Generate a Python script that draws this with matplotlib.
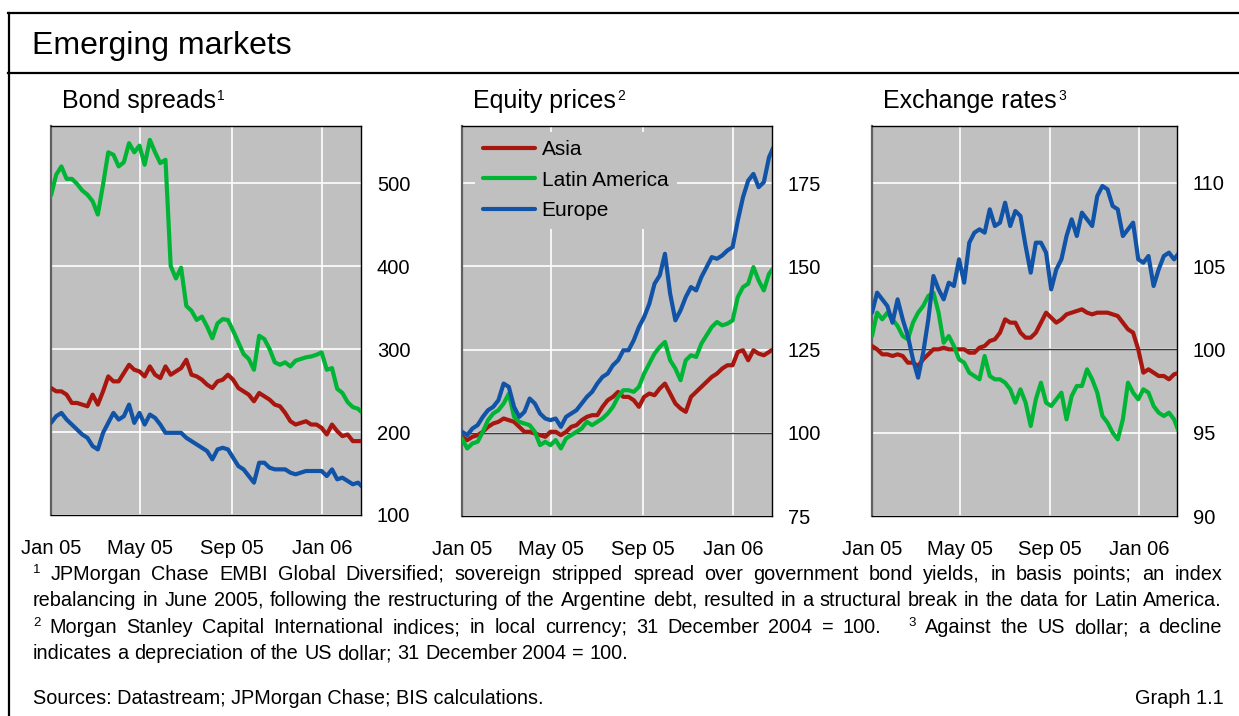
import matplotlib
matplotlib.use('Agg')
import matplotlib.pyplot as plt
import pandas as pd
from matplotlib.lines import Line2D

plt.rcParams['font.family'] = ['Liberation Sans', 'DejaVu Sans']

W, H = 1239, 716

dates = pd.date_range('2005-01-01', periods=61, freq='7D')

# Bond spreads, basis points
bond_asia = [253, 249, 249, 245, 235, 235, 233, 231, 245, 233,
             249, 267, 261, 261, 271, 281, 275, 273, 267, 279,
             269, 265, 279, 269, 273, 277, 287, 269, 267, 263,
             257, 253, 261, 263, 269, 263, 253, 249, 245, 237,
             247, 243, 239, 233, 231, 223, 213, 209, 211, 213,
             209, 209, 205, 197, 209, 201, 195, 197, 189, 189, 189]
bond_latam = [485, 510, 520, 505, 505, 499, 491, 486, 478, 462,
              498, 537, 534, 520, 525, 548, 537, 545, 522, 552,
              537, 524, 528, 400, 385, 398, 352, 346, 335, 339,
              327, 313, 331, 336, 335, 322, 308, 294, 288, 275,
              316, 312, 300, 284, 281, 284, 279, 286, 288, 290,
              291, 293, 296, 275, 277, 252, 247, 236, 230, 228, 222]
bond_europe = [211, 219, 223, 215, 209, 203, 197, 193, 183, 179,
               199, 211, 223, 215, 219, 233, 211, 223, 209, 221,
               217, 209, 199, 199, 199, 199, 193, 189, 185, 181,
               177, 167, 179, 181, 179, 169, 159, 155, 147, 139,
               163, 163, 157, 155, 155, 155, 151, 149, 151, 153,
               153, 153, 153, 147, 155, 143, 145, 141, 137, 139, 133]

# Equity prices, 31 Dec 2004 = 100
eq_asia = [98.8, 97.8, 98.8, 99.3, 100.3, 101.8, 102.8, 103.3, 104.3, 103.8,
           103.3, 101.8, 100.3, 100.3, 99.8, 99.3, 98.8, 100.3, 100.3, 99.3,
           100.3, 101.8, 102.3, 103.8, 104.8, 105.3, 105.3, 107.8, 109.8, 110.8,
           112.3, 110.8, 110.8, 109.8, 107.8, 110.8, 111.8, 111.3, 113.3, 114.8,
           111.8, 108.8, 107.3, 106.3, 110.8, 112.3, 113.8, 115.3, 116.8, 117.8,
           119.3, 120.3, 120.3, 124.3, 124.8, 121.8, 124.8, 123.8, 123.3, 124.3, 125.3]
eq_latam = [98.3, 95.3, 96.8, 97.3, 100.3, 103.8, 105.8, 106.8, 108.8, 111.8,
            104.8, 103.3, 102.8, 102.3, 100.3, 96.3, 97.3, 96.3, 97.8, 95.3,
            98.3, 99.3, 100.3, 101.3, 103.3, 102.3, 103.3, 104.3, 105.8, 107.8,
            110.8, 112.8, 112.8, 112.3, 113.8, 117.8, 120.8, 123.8, 125.8, 127.3,
            121.8, 119.3, 115.8, 121.8, 123.3, 122.8, 126.8, 129.3, 131.8, 133.3,
            132.3, 132.8, 133.8, 140.8, 143.8, 144.8, 149.8, 145.8, 142.8, 147.8, 149.8]
eq_europe = [100.3, 99.3, 101.3, 102.3, 104.8, 106.8, 107.8, 109.8, 114.8, 113.8,
             107.8, 104.8, 106.3, 110.3, 108.8, 105.8, 104.3, 103.8, 104.3, 101.8,
             104.8, 105.8, 106.8, 108.8, 110.8, 112.3, 114.8, 116.8, 117.8, 120.3,
             121.8, 124.8, 124.8, 127.8, 131.8, 134.8, 138.8, 144.8, 147.3, 153.8,
             141.8, 133.8, 136.8, 140.8, 143.8, 142.8, 146.8, 149.8, 152.8, 152.3,
             153.3, 154.8, 155.8, 163.8, 170.8, 175.8, 177.8, 173.8, 175.3, 182.8, 186.3]

# Exchange rates against the US dollar, 31 Dec 2004 = 100
fx_asia = [100.2, 100.0, 99.7, 99.7, 99.6, 99.7, 99.6, 99.2, 99.2, 99.0,
           99.4, 99.7, 100.0, 100.0, 100.1, 100.0, 100.0, 100.0, 100.0, 99.8,
           99.8, 100.1, 100.2, 100.5, 100.6, 101.0, 101.8, 101.6, 101.6, 101.0,
           100.7, 100.7, 101.0, 101.6, 102.2, 101.9, 101.6, 101.8, 102.1, 102.2,
           102.3, 102.4, 102.2, 102.1, 102.2, 102.2, 102.2, 102.1, 102.0, 101.6,
           101.2, 101.0, 100.0, 98.6, 98.8, 98.6, 98.4, 98.4, 98.2, 98.5, 98.6]
fx_latam = [100.8, 102.2, 101.8, 102.2, 101.8, 101.4, 100.8, 100.6, 101.6, 102.2,
            102.6, 103.2, 103.4, 102.2, 100.4, 100.8, 100.2, 99.4, 99.2, 98.6,
            98.4, 98.2, 99.6, 98.4, 98.2, 98.2, 98.0, 97.6, 96.8, 97.6,
            96.8, 95.4, 97.0, 98.0, 96.8, 96.6, 97.0, 97.4, 95.8, 97.2,
            97.8, 97.8, 98.8, 98.2, 97.4, 96.0, 95.6, 95.0, 94.6, 95.8,
            98.0, 97.4, 97.0, 97.6, 97.4, 96.6, 96.2, 96.0, 96.2, 95.8, 95.0]
fx_europe = [102.2, 103.4, 103.0, 102.6, 101.6, 103.0, 101.8, 100.8, 99.4, 98.3,
             99.8, 101.8, 104.4, 103.6, 103.0, 104.0, 103.8, 105.4, 104.0, 106.4,
             107.0, 107.2, 107.0, 108.4, 107.4, 107.6, 108.8, 107.4, 108.3, 108.0,
             106.2, 104.6, 106.4, 106.4, 105.8, 103.6, 104.8, 105.4, 106.8, 107.8,
             106.8, 108.2, 107.8, 107.4, 109.2, 109.8, 109.6, 108.6, 108.4, 106.8,
             107.2, 107.6, 105.4, 105.2, 105.6, 103.8, 104.8, 105.6, 105.8, 105.4, 105.8]

series_names = ['Asia', 'Latin America', 'Europe']
tick_dates = pd.to_datetime(['2005-01-01', '2005-05-01', '2005-09-01', '2006-01-01'])
tick_labels = ['Jan 05', 'May 05', 'Sep 05', 'Jan 06']

RED, GREEN, BLUE = '#a8170f', '#00b535', '#1153a6'
BG = '#c0c0c0'
NOTE_SIZE = 14.3

fig = plt.figure(figsize=(W / 100, H / 100), dpi=100)


def px_axes(l, t, r, b):
    return fig.add_axes([l / W, 1 - b / H, (r - l) / W, (b - t) / H])


def text_run(items, x0, y, x1=None):
    # items: (string, size, rise_px, gap_weight_after)
    rend = fig.canvas.get_renderer()
    objs = [fig.text(0, 0, s, fontsize=sz, va='baseline', ha='left', color='black')
            for s, sz, _, _ in items]
    widths = [t.get_window_extent(rend).width for t in objs]
    weights = [it[3] for it in items[:-1]]
    base = items[-1][1] * 100 / 72 * 0.278
    if x1 is not None and sum(weights) > 0:
        gap = (x1 - x0 - sum(widths)) / sum(weights)
    else:
        gap = base
    x = x0
    for t, w, it in zip(objs, widths, items):
        t.set_position((x / W, 1 - (y - it[2]) / H))
        x += w + gap * it[3]


def footnote(line, y, justify=True, x0=33, x1=1222):
    items = []
    for word in line.split(' '):
        if word.startswith('^'):
            items.append((word[1:], 9.5, 7, 1))
        elif word == '100.' and 'Against' in line:
            items.append((word, NOTE_SIZE, 0, 3))
        else:
            items.append((word, NOTE_SIZE, 0, 1))
    text_run(items, x0, y, x1 if justify else None)


panels = [
    dict(title='Bond spreads', sup='1', box=(51, 126, 361, 515),
         ylim=(100, 568.7), yticks=[100, 200, 300, 400, 500],
         data=[bond_asia, bond_latam, bond_europe], base=False),
    dict(title='Equity prices', sup='2', box=(462, 126, 772, 516),
         ylim=(75, 192.2), yticks=[75, 100, 125, 150, 175],
         data=[eq_asia, eq_latam, eq_europe], base=True),
    dict(title='Exchange rates', sup='3', box=(872, 126, 1177, 516),
         ylim=(90, 113.4), yticks=[90, 95, 100, 105, 110],
         data=[fx_asia, fx_latam, fx_europe], base=True),
]

axes = []
for p in panels:
    ax = px_axes(*p['box'])
    ax.set_facecolor(BG)
    for vals, col, name in zip(p['data'], [RED, GREEN, BLUE], series_names):
        ax.plot(dates, vals, color=col, lw=3.0, label=name, zorder=3,
                solid_joinstyle='round', solid_capstyle='round')
    if p['base']:
        ax.axhline(100, color='#383838', lw=1.0, zorder=2)
    ax.set_xlim(pd.Timestamp('2005-01-01'), pd.Timestamp('2006-02-22'))
    ax.set_ylim(*p['ylim'])
    ax.set_xticks(tick_dates)
    ax.set_xticklabels(tick_labels)
    ax.set_yticks(p['yticks'])
    ax.yaxis.tick_right()
    ax.tick_params(axis='y', length=0, labelsize=14.5, pad=11.5)
    ax.tick_params(axis='x', length=0, labelsize=14.5, pad=17)
    ax.grid(color='white', lw=1.2, zorder=1)
    ax.set_axisbelow(True)
    for s in ax.spines.values():
        s.set_color('black')
        s.set_linewidth(1.0)
    ax.spines['left'].set_color('#606060')
    ax.spines['left'].set_linewidth(1.6)
    text_run([(p['title'], 18, 0, 0.35), (p['sup'], 10, 8, 0)],
             p['box'][0] + 11, 108)
    axes.append(ax)

leg = axes[1].legend(loc='upper left', bbox_to_anchor=(13 / 310, 1 - 6 / 390),
                     borderaxespad=0, fontsize=15, frameon=True, facecolor=BG,
                     edgecolor='none', framealpha=1, handlelength=2.5,
                     handletextpad=0.3, labelspacing=0.55, borderpad=0.4)
leg.get_frame().set_linewidth(0)

# outer frame and title bar
for xs, ys in [((8.5, 8.5), (13, H)), ((8, W), (13, 13)), ((8, W), (72.5, 72.5))]:
    fig.add_artist(Line2D([x / W for x in xs], [1 - y / H for y in ys],
                          color='black', lw=1.6))
fig.text(32 / W, 1 - 54 / H, 'Emerging markets', fontsize=23, va='baseline')

footnote('^1 JPMorgan Chase EMBI Global Diversified; sovereign stripped spread over '
         'government bond yields, in basis points; an index', 580)
footnote('rebalancing in June 2005, following the restructuring of the Argentine debt, '
         'resulted in a structural break in the data for Latin America.', 606)
footnote('^2 Morgan Stanley Capital International indices; in local currency; '
         '31 December 2004 = 100. ^3 Against the US dollar; a decline', 633)
footnote('indicates a depreciation of the US dollar; 31 December 2004 = 100.', 659,
         justify=False)

fig.text(33 / W, 1 - 704 / H, 'Sources: Datastream; JPMorgan Chase; BIS calculations.',
         fontsize=NOTE_SIZE, va='baseline')
fig.text(1224 / W, 1 - 704 / H, 'Graph 1.1', fontsize=NOTE_SIZE, va='baseline', ha='right')

fig.savefig('out.png', dpi=100)
